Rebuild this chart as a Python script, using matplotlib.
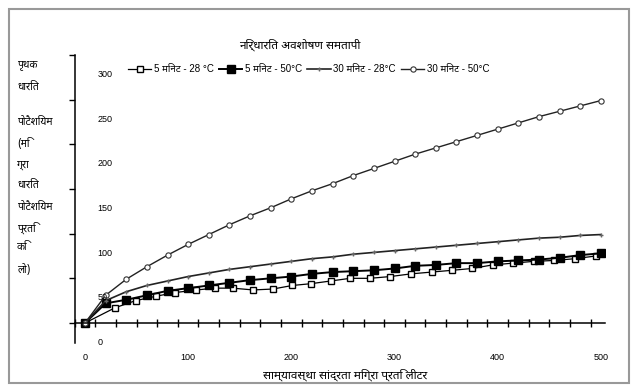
import matplotlib
matplotlib.use("Agg")
import matplotlib.pyplot as plt
from matplotlib import font_manager, ft2font
from matplotlib.font_manager import FontProperties
from matplotlib.transforms import blended_transform_factory, ScaledTranslation
from matplotlib.patches import Rectangle

title = "निर्धारित अवशोषण समतापी"
xlabel = "साम्यावस्था सांद्रता मिग्रा प्रति लीटर"
ylabel_lines = ["पृथक", "धारित", "", "पोटैशियम", "(मि", "ग्रा", "धारित", "पोटैशियम", "प्रति", "कि", "लो)"]
series_names = ["5 मिनट - 28 °C", "5 मिनट - 50°C", "30 मिनट - 28°C", "30 मिनट - 50°C"]
x_tick_values = [0, 100, 200, 300, 400, 500]
x_minor_ticks = list(range(-10, 505, 20))
y_tick_values = [0, 50, 100, 150, 200, 250, 300]

x_grid = [0, 20, 40, 60, 80, 100, 120, 140, 160, 180, 200, 220, 240, 260,
          280, 300, 320, 340, 360, 380, 400, 420, 440, 460, 480, 500]
x_s1 = [0, 29, 49, 69, 87, 108, 126, 143, 163, 182, 201, 219, 238, 257,
        276, 296, 316, 336, 356, 375, 395, 415, 435, 455, 475, 495]
y_s1 = [0, 17, 25, 30, 34, 37, 39, 39, 37, 38, 42, 44, 47, 50,
        50, 52, 55, 57, 59, 61, 65, 67, 69, 70, 72, 75]
y_s2 = [0, 22, 26, 31, 36, 39, 42, 45, 48, 50, 52, 55, 57, 58,
        59, 61, 64, 65, 67, 67, 69, 70, 71, 73, 76, 78]
y_s3 = [0, 25, 35, 42, 47, 52, 56, 60, 63, 66, 69, 72, 74, 77,
        79, 81, 83, 85, 87, 89, 91, 93, 95, 96, 98, 99]
y_s4 = [0, 31, 49, 63, 76, 88, 99, 110, 120, 129, 139, 148, 156, 165,
        173, 181, 189, 196, 203, 210, 217, 224, 231, 237, 243, 249]

plt.rcParams['font.family'] = ['Liberation Sans', 'Noto Sans Devanagari', 'DejaVu Sans']

# locate a bold Devanagari face directly
bold_path = None
for p in font_manager.findSystemFonts():
    try:
        f = ft2font.FT2Font(p)
        if f.family_name == 'Noto Sans Devanagari' and f.style_name == 'Bold':
            bold_path = p
            break
    except Exception:
        pass


def hindi_fp(size):
    if bold_path:
        return FontProperties(fname=bold_path, size=size)
    return FontProperties(family=['Noto Sans Devanagari', 'DejaVu Sans'], weight='bold', size=size)


fig = plt.figure(figsize=(6.31, 3.90), dpi=100)
W, H = 631, 390
ax = fig.add_axes([75 / W, (H - 343) / H, 530 / W, 288 / H])
ax.set_xlim(-9.7, 504)
ax.set_ylim(-22.4, 300)

ax.plot(x_s1, y_s1, color='black', lw=0.9, marker='s', ms=5, mfc='white', mec='black', mew=1.0,
        label=series_names[0])
ax.plot(x_grid, y_s2, color='black', lw=1.4, marker='s', ms=5.5, mfc='black', mec='black',
        label=series_names[1])
ax.plot(x_grid, y_s3, color='#222222', lw=1.2, marker='+', ms=3, mec='#666666',
        label=series_names[2])
ax.plot(x_grid, y_s4, color='#222222', lw=1.0, marker='o', ms=3.8, mfc='white', mec='#333333',
        mew=0.8, label=series_names[3])

for s in ['top', 'right']:
    ax.spines[s].set_visible(False)
ax.spines['bottom'].set_position(('data', 0))
ax.spines['left'].set_linewidth(1.1)
ax.spines['bottom'].set_linewidth(1.1)

# x tick marks every 20 crossing the axis, labels at the hundreds
ax.set_xticks([])
ax.plot(x_minor_ticks, [0] * len(x_minor_ticks), ls='none', marker='|', ms=6, mew=1.0,
        color='black', clip_on=False, zorder=3)
trx = blended_transform_factory(ax.transData, ax.transAxes)
for v in x_tick_values:
    ax.text(v, -0.035, str(v), transform=trx, fontsize=6.5, ha='center', va='top')

# y ticks (labels drawn inside, shifted down as in the reference)
ax.set_yticks(y_tick_values)
ax.set_yticklabels([])
ax.tick_params(axis='y', which='major', length=4, direction='out', width=1.0)
tr = blended_transform_factory(ax.transAxes, ax.transData)
for v in y_tick_values:
    ax.text(0.042, v, str(v), transform=tr + ScaledTranslation(0, -14 / 72, fig.dpi_scale_trans),
            fontsize=6.5, ha='left', va='center')

handles, labels = ax.get_legend_handles_labels()
ax.legend(handles, labels, loc='upper left', bbox_to_anchor=(128 / W, 1 - 64 / H),
          bbox_transform=fig.transFigure, ncol=4, frameon=False, fontsize=7, handlelength=2.4,
          columnspacing=0.5, handletextpad=0.3, borderaxespad=0, borderpad=0)

fig.text(300 / W, 1 - 45 / H, title, ha='center', va='center', fontproperties=hindi_fp(8.5))
fig.text(345 / W, 1 - 375 / H, xlabel, ha='center', va='center', fontproperties=hindi_fp(8.5))
ys = [65, 87, 105, 122, 144, 165, 185, 207, 228, 248, 270]
for t, yy in zip(ylabel_lines, ys):
    if t:
        fig.text(17 / W, 1 - yy / H, t, ha='left', va='center', fontproperties=hindi_fp(7.5))

fig.patches.append(Rectangle((9 / W, 7 / H), 620 / W, 374 / H, transform=fig.transFigure,
                             fill=False, ec='#999999', lw=1.5))

fig.savefig("out.png", dpi=100)
